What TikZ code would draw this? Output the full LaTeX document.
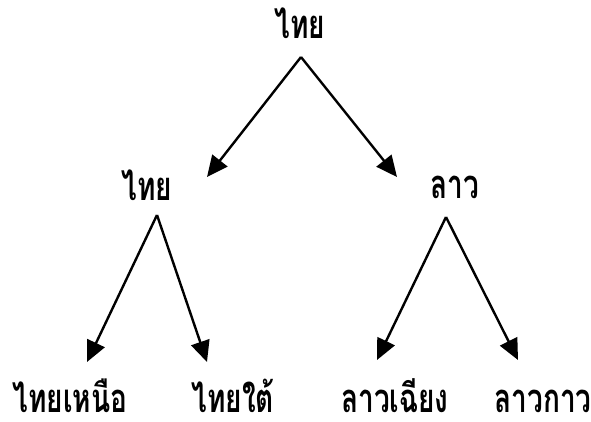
\documentclass[tikz,border=0pt]{standalone}
\usepackage{fontspec}
\newfontfamily\thaifont[Script=Thai]{Loma}
\usetikzlibrary{arrows.meta}
\begin{document}
\begin{tikzpicture}[x=1pt,y=-1pt,
  lbl/.style={font=\thaifont\bfseries\fontsize{40}{42}\selectfont, anchor=base, inner sep=0pt, text depth=0pt, xscale=0.7},
  arr/.style={line width=2.4pt, -{Triangle[length=21pt,width=19pt]}}]
\useasboundingbox (0,0) rectangle (591,421);
% nodes
\node[lbl] (root) at (300,38) {ไทย};
\node[lbl] (thai) at (147,200) {ไทย};
\node[lbl] (lao) at (455,198) {ลาว};
\node[lbl] (tn) at (70,412) {ไทยเหนือ};
\node[lbl] (ts) at (233,412) {ไทยใต้};
\node[lbl] (lc) at (395,412) {ลาวเฉียง};
\node[lbl] (lk) at (543,412) {ลาวกาว};
% connector ends
\coordinate (rootA) at (301,57);
\coordinate (thaiT) at (207,177);
\coordinate (laoT) at (397,177);
\coordinate (thaiA) at (157,215);
\coordinate (tnT) at (87,362);
\coordinate (tsT) at (207,362);
\coordinate (laoA) at (446,217);
\coordinate (lcT) at (377,360);
\coordinate (lkT) at (518,360);
% connectors
\draw[arr] (rootA) -- (thaiT);
\draw[arr] (rootA) -- (laoT);
\draw[arr] (thaiA) -- (tnT);
\draw[arr] (thaiA) -- (tsT);
\draw[arr] (laoA) -- (lcT);
\draw[arr] (laoA) -- (lkT);
\end{tikzpicture}
\end{document}
